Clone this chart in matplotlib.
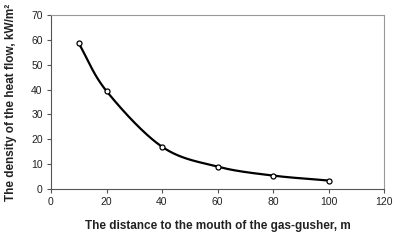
import numpy as np
import matplotlib
matplotlib.use("Agg")
import matplotlib.pyplot as plt

distance = [10, 20, 40, 60, 80, 100]
heat_flow = [58.6, 39.4, 17.0, 9.0, 5.4, 3.4]
x_ticks = [0, 20, 40, 60, 80, 100, 120]
y_ticks = [0, 10, 20, 30, 40, 50, 60, 70]

plt.rcParams['font.family'] = ['Liberation Sans', 'DejaVu Sans']


def smooth(xs, ys, n=40):
    # Catmull-Rom style smoothing (like Excel smoothed line)
    xs = np.asarray(xs, float)
    ys = np.asarray(ys, float)
    px = np.concatenate([[2 * xs[0] - xs[1]], xs, [2 * xs[-1] - xs[-2]]])
    py = np.concatenate([[2 * ys[0] - ys[1]], ys, [2 * ys[-1] - ys[-2]]])
    outx, outy = [], []
    t = np.linspace(0, 1, n)
    for i in range(1, len(px) - 2):
        p0, p1, p2, p3 = [np.array([px[j], py[j]]) for j in range(i - 1, i + 3)]
        c1 = p1 + (p2 - p0) / 6.0
        c2 = p2 - (p3 - p1) / 6.0
        b = ((1 - t) ** 3)[:, None] * p1 + (3 * (1 - t) ** 2 * t)[:, None] * c1 \
            + (3 * (1 - t) * t ** 2)[:, None] * c2 + (t ** 3)[:, None] * p2
        outx.extend(b[:, 0])
        outy.extend(b[:, 1])
    return outx, outy


fig = plt.figure(figsize=(4.0, 2.41), dpi=100)
ax = fig.add_axes([0.1275, 0.2158, 0.8325, 0.722])

sx, sy = smooth(distance, heat_flow)
ax.plot(sx, sy, color='black', lw=1.6, zorder=2)
ax.plot(distance, heat_flow, 'o', ms=3.6, mfc='white', mec='black', mew=0.9, zorder=3)

ax.set_xlim(0, 120)
ax.set_ylim(0, 70)
ax.set_xticks(x_ticks)
ax.set_yticks(y_ticks)
ax.tick_params(labelsize=7.5, length=3, width=0.8, color='#555555', labelcolor='#222222', pad=3)

for s in ['top', 'right']:
    ax.spines[s].set_color('#999999')
    ax.spines[s].set_linewidth(0.8)
for s in ['left', 'bottom']:
    ax.spines[s].set_color('#555555')
    ax.spines[s].set_linewidth(0.8)

ax.set_xlabel('The distance to the mouth of the gas-gusher, m', fontsize=8.5, fontweight='bold', color='#222222', labelpad=9)
ax.set_ylabel('The density of the heat flow, kW/m²', fontsize=8.5, fontweight='bold', color='#222222', labelpad=10)

fig.savefig('out.png', dpi=100)
